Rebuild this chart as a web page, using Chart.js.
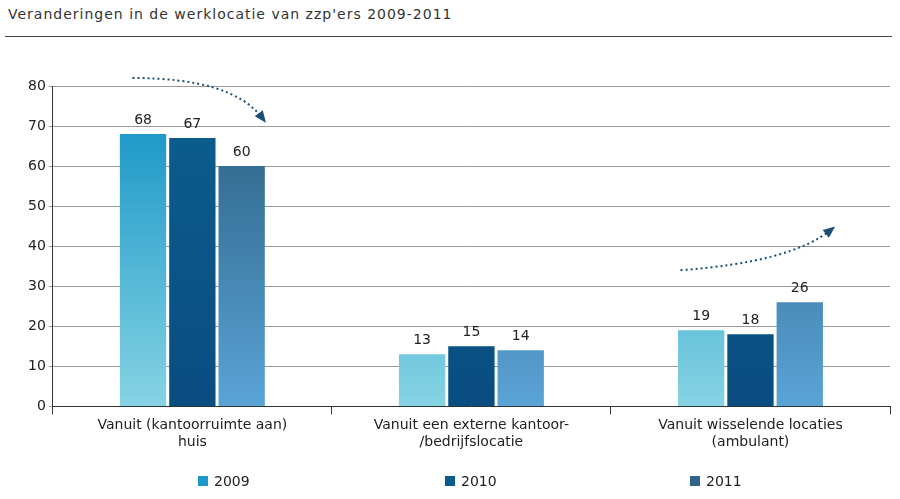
<!DOCTYPE html><html><head><script src="https://cdn.jsdelivr.net/npm/chart.js"></script>
<style>body{margin:0;background:#fff;font-family:Verdana,"DejaVu Sans",sans-serif}
#t{position:absolute;left:8px;top:6px;font-size:14px;letter-spacing:1px;color:#333}
#l{position:absolute;left:5px;right:8px;top:36px;border-top:1px solid #444}
#w{position:absolute;left:0;top:60px;width:900px;height:439px}
.lg{position:absolute;top:473px;font-size:14px;color:#222}
.lg i{display:inline-block;width:10px;height:10px;margin-right:6px}</style></head><body>
<div id="t">Veranderingen in de werklocatie van zzp'ers 2009-2011</div><div id="l"></div>
<div id="w"><canvas id="c"></canvas></div>
<div id="lgs"></div>
<script>
const categories=[["Vanuit (kantoorruimte aan)","huis"],["Vanuit een externe kantoor-","/bedrijfslocatie"],["Vanuit wisselende locaties","(ambulant)"]];
const seriesNames=["2009","2010","2011"];
const v2009=[68,13,19],v2010=[67,15,18],v2011=[60,14,26];
const grads=[["#1c98c8","#86d3e3"],["#0b5c8e","#0a4d80"],["#2f6488","#5aa4d6"]];
const lgx=[198,445,690];
document.getElementById('lgs').innerHTML=seriesNames.map((n,i)=>`<div class="lg" style="left:${lgx[i]}px"><i style="background:${grads[i][0]}"></i>${n}</div>`).join('');
function bg(i){return c=>{const a=c.chart.chartArea;if(!a)return grads[i][0];const y=c.chart.scales.y;const g=c.chart.ctx.createLinearGradient(0,y.getPixelForValue(70),0,a.bottom);g.addColorStop(0,grads[i][0]);g.addColorStop(1,grads[i][1]);return g;}}
const labelsPlug={id:'lbl',afterDatasetsDraw(ch){const x=ch.ctx;x.save();x.font='14px Verdana, DejaVu Sans';x.fillStyle='#222';x.textAlign='center';
ch.data.datasets.forEach((d,i)=>ch.getDatasetMeta(i).data.forEach((b,j)=>x.fillText(d.data[j],b.x,b.y-10)));
const xs=ch.scales.x,y=ch.scales.y;x.strokeStyle='#1a4f7a';x.lineWidth=2;x.setLineDash([2,3]);
function arr(x0,y0,x1,y1,cx,cy){x.beginPath();x.moveTo(x0,y0);x.quadraticCurveTo(cx,cy,x1,y1);x.stroke();const a=Math.atan2(y1-cy,x1-cx);x.setLineDash([]);x.fillStyle='#1a4f7a';x.beginPath();x.moveTo(x1+6*Math.cos(a),y1+6*Math.sin(a));x.lineTo(x1-6*Math.cos(a)-5*Math.sin(a),y1-6*Math.sin(a)+5*Math.cos(a));x.lineTo(x1-6*Math.cos(a)+5*Math.sin(a),y1-6*Math.sin(a)-5*Math.cos(a));x.fill();x.setLineDash([2,3]);}
const c0=xs.getPixelForValue(0),c2=xs.getPixelForValue(2);
arr(c0-60,y.getPixelForValue(82),c0+70,y.getPixelForValue(72),c0+40,y.getPixelForValue(82));
arr(c2-70,y.getPixelForValue(34),c2+80,y.getPixelForValue(44),c2+40,y.getPixelForValue(36));
x.restore();}};
new Chart(document.getElementById('c'),{type:'bar',data:{labels:categories,datasets:[v2009,v2010,v2011].map((d,i)=>({label:seriesNames[i],data:d,backgroundColor:bg(i)}))},
options:{responsive:true,maintainAspectRatio:false,animation:false,layout:{padding:{left:25,right:10,top:26,bottom:45}},
datasets:{bar:{categoryPercentage:0.53,barPercentage:0.94}},
scales:{y:{min:0,max:80,ticks:{stepSize:10,color:'#222',font:{size:14,family:'Verdana, DejaVu Sans'}},grid:{color:'#999',tickLength:4},border:{color:'#333'}},
x:{ticks:{color:'#222',font:{size:14,family:'Verdana, DejaVu Sans'}},grid:{display:true,offset:true,drawOnChartArea:false,tickLength:8,color:'#333'},border:{color:'#333'}}},
plugins:{legend:{display:false},tooltip:{enabled:false}}},plugins:[labelsPlug]});
</script></body></html>
